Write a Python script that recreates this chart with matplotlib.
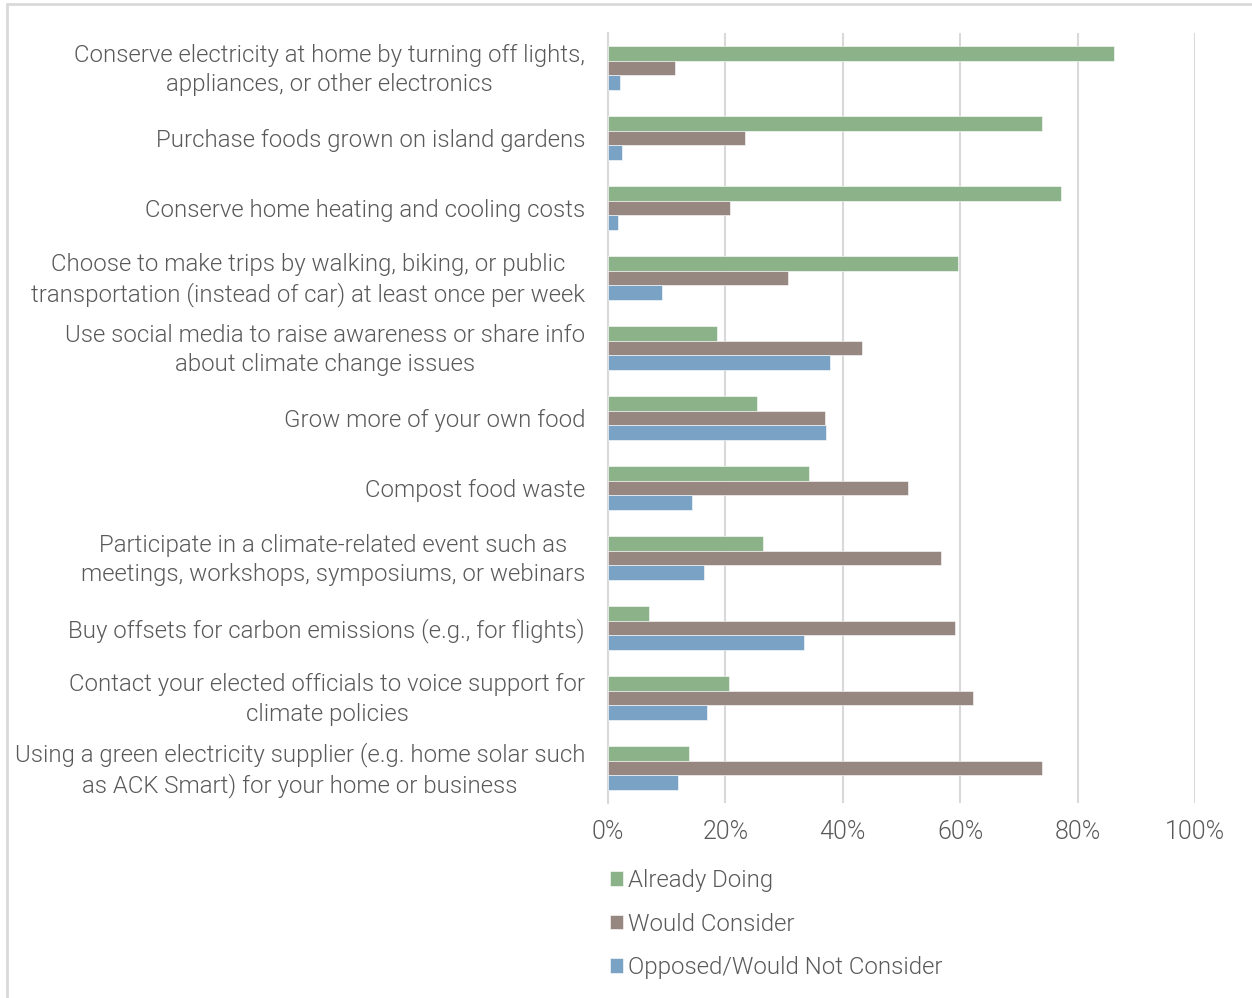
import matplotlib.pyplot as plt
import matplotlib.patches as mpatches
import matplotlib.transforms as mtransforms
import numpy as np

plt.rcParams['font.family'] = ['Roboto', 'DejaVu Sans']

acoes = [
    'Conserve electricity at home by turning off lights,\nappliances, or other electronics',
    'Purchase foods grown on island gardens',
    'Conserve home heating and cooling costs',
    'Choose to make trips by walking, biking, or public\ntransportation (instead of car) at least once per week',
    'Use social media to raise awareness or share info\nabout climate change issues',
    'Grow more of your own food',
    'Compost food waste',
    'Participate in a climate-related event such as\nmeetings, workshops, symposiums, or webinars',
    'Buy offsets for carbon emissions (e.g., for flights)',
    'Contact your elected officials to voice support for\nclimate policies',
    'Using a green electricity supplier (e.g. home solar such\nas ACK Smart) for your home or business',
]
ja_faz = [86.2, 73.9, 77.2, 59.6, 18.6, 25.4, 34.2, 26.4, 7.0, 20.6, 13.8]
consideraria = [11.4, 23.3, 20.8, 30.7, 43.3, 37.0, 51.1, 56.7, 59.1, 62.2, 73.9]
nao_consideraria = [2.0, 2.4, 1.7, 9.2, 37.8, 37.1, 14.3, 16.4, 33.4, 16.9, 11.9]
series = ['Already Doing', 'Would Consider', 'Opposed/Would Not Consider']
cores = ['#8CB28A', '#968781', '#7AA2C4']

fig = plt.figure(figsize=(12.52, 9.98), dpi=100)
ax = fig.add_axes([0.4856, 0.1954, 0.4689, 0.7715])

n = len(acoes)
y = np.arange(n)[::-1]
altura = 0.207
for i, (vals, nome, cor) in enumerate(zip([ja_faz, consideraria, nao_consideraria], series, cores)):
    ax.barh(y + (1 - i) * altura, vals, height=altura, color=cor, label=nome,
            edgecolor='white', linewidth=0.4, zorder=3)

ax.set_xlim(0, 100)
ax.set_ylim(-0.5, n - 0.5)
ax.set_xticks(range(0, 101, 20))
ax.set_xticklabels([f'{v}%' for v in range(0, 101, 20)])
ax.set_yticks(y)
ax.set_yticklabels(acoes)
ax.tick_params(axis='y', length=0, pad=16.5, labelsize=17.3, labelcolor='#595959')
ax.tick_params(axis='x', length=0, pad=12, labelsize=18, labelcolor='#595959')

# rótulos de duas linhas ficam um pouco baixos; sobe alguns pixels
sobe = mtransforms.ScaledTranslation(0, 4 / 100, fig.dpi_scale_trans)
for t in ax.get_yticklabels():
    t.set_multialignment('center')
    t.set_linespacing(1.35)
    if '\n' in t.get_text():
        t.set_transform(t.get_transform() + sobe)
for t in ax.get_xticklabels() + ax.get_yticklabels():
    t.set_fontweight(300)

ax.grid(axis='x', color='#D9D9D9', linewidth=1.5, zorder=0)
for lado in ['top', 'right', 'bottom']:
    ax.spines[lado].set_visible(False)
ax.spines['left'].set_color('#D9D9D9')
ax.spines['left'].set_linewidth(1.5)

leg = fig.legend(loc='upper left', bbox_to_anchor=(0.4795, 0.139), frameon=False,
                 fontsize=17.3, handlelength=0.55, handleheight=0.55,
                 handletextpad=0.2, labelspacing=0.86, borderaxespad=0)
for t in leg.get_texts():
    t.set_color('#595959')
    t.set_fontweight(300)

# moldura cinza clara em volta da figura
fig.patches.append(mpatches.Rectangle((7 / 1252, -0.01), 1.0, 1 - 4 / 998 + 0.01,
                                      transform=fig.transFigure, fill=False,
                                      edgecolor='#D9D9D9', linewidth=2))

fig.savefig('out.png', dpi=100)
